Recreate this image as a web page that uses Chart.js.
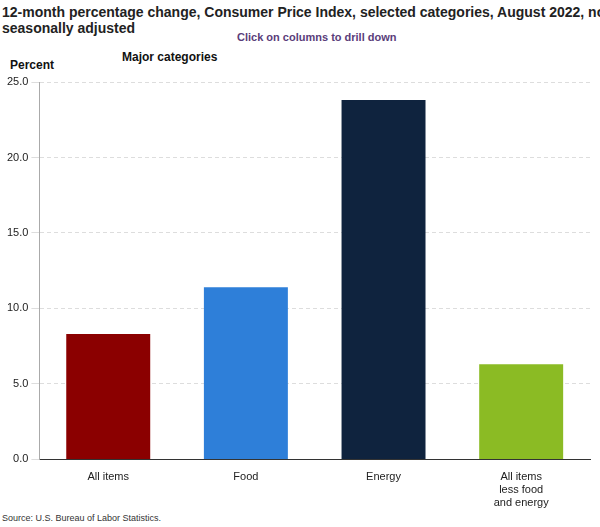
<!DOCTYPE html>
<html><head><meta charset="utf-8">
<script src="https://cdn.jsdelivr.net/npm/chart.js@4"></script>
<style>
body{margin:0;width:600px;height:527px;position:relative;font-family:Arial,"Liberation Sans",sans-serif;background:#fff}
.t{position:absolute;white-space:nowrap}
#wrap{position:absolute;left:0;top:0;width:600px;height:527px}
</style></head><body>
<div class="t" style="left:2px;top:4px;font-size:14px;font-weight:bold;color:#222;line-height:16px">12-month percentage change, Consumer Price Index, selected categories, August 2022, not<br>seasonally adjusted</div>
<div class="t" style="left:237px;top:31px;font-size:11px;font-weight:bold;color:#5a3d7a">Click on columns to drill down</div>
<div class="t" style="left:122px;top:50px;font-size:12px;font-weight:bold;color:#111">Major categories</div>
<div class="t" style="left:10px;top:58px;font-size:12px;font-weight:bold;color:#111">Percent</div>
<div class="t" style="left:2px;top:513px;font-size:9px;color:#333">Source: U.S. Bureau of Labor Statistics.</div>
<div id="wrap"><canvas id="c"></canvas></div>
<script>
const categories = ['All items', 'Food', 'Energy', ['All items', 'less food', 'and energy']];
const values = [8.3, 11.4, 23.8, 6.3];
const colors = ['#8b0000', '#2e7fd9', '#0f233e', '#8bbb24'];

new Chart(document.getElementById('c'), {
    type: 'bar',
    data: {
        labels: categories,
        datasets: [{
            data: values,
            backgroundColor: colors,
            barPercentage: 0.61,
            categoryPercentage: 1
        }]
    },
    options: {
        responsive: true,
        maintainAspectRatio: false,
        animation: false,
        layout: { padding: { top: 82, right: 10, bottom: 14, left: 4 } },
        plugins: { legend: { display: false }, tooltip: { enabled: false } },
        scales: {
            x: {
                grid: { display: false },
                border: { color: '#333' },
                ticks: { color: '#222', font: { size: 11, family: 'Arial' }, maxRotation: 0 }
            },
            y: {
                min: 0, max: 25,
                ticks: { stepSize: 5, color: '#222', font: { size: 11, family: 'Arial' },
                         callback: v => v.toFixed(1) },
                grid: { color: '#dddddd' },
                border: { display: true, color: '#aaa', dash: [4, 3] }
            }
        }
    }
});
</script>
</body></html>
